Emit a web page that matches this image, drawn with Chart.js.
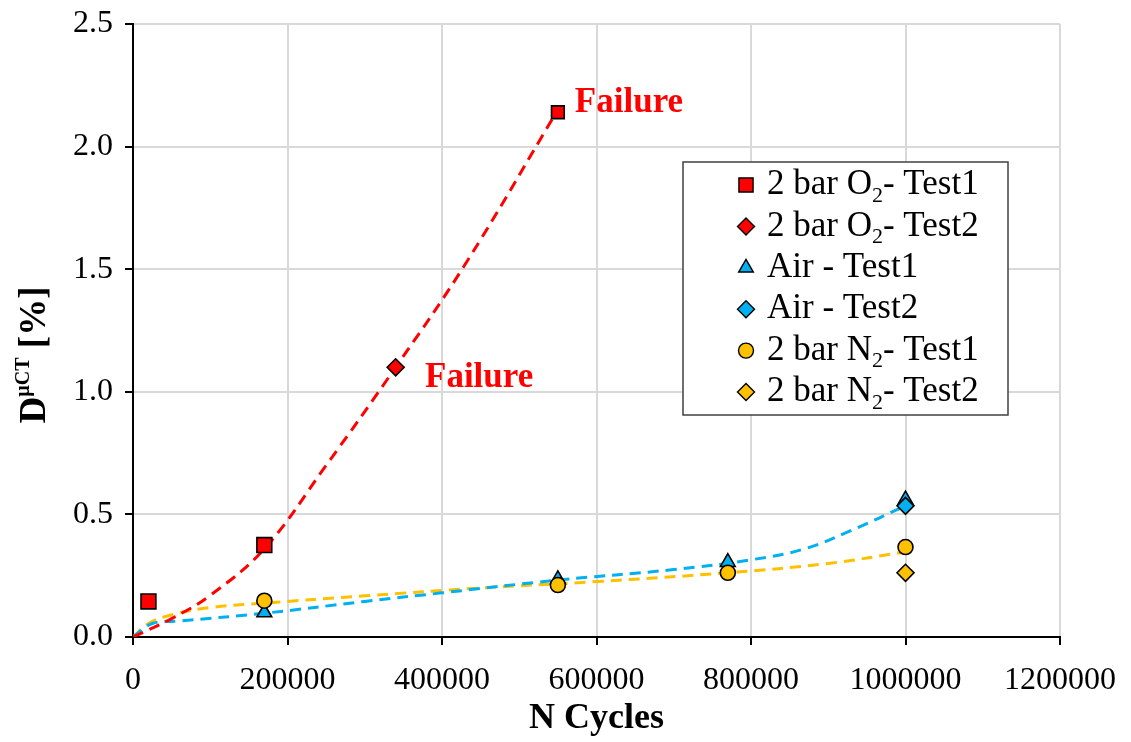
<!DOCTYPE html>
<html>
<head>
<meta charset="utf-8">
<script src="https://cdn.jsdelivr.net/npm/chart.js@4"></script>
<style>
  html, body { margin: 0; padding: 0; background: #fff; }
</style>
</head>
<body>
<canvas id="chart" width="1131" height="742"></canvas>
<script>
// measured points
const o2Test1X = [20000, 170000, 550000];
const o2Test1Y = [0.145, 0.375, 2.14];
const o2Test2X = [340000];
const o2Test2Y = [1.10];
const airTest1X = [170000, 550000, 770000, 1000000];
const airTest1Y = [0.10, 0.235, 0.305, 0.56];
const airTest2X = [1000000];
const airTest2Y = [0.535];
const n2Test1X = [170000, 550000, 770000, 1000000];
const n2Test1Y = [0.148, 0.212, 0.262, 0.367];
const n2Test2X = [1000000];
const n2Test2Y = [0.262];

// trend lines
const redTrendX = [0, 50000, 100000, 170000, 250000, 340000, 430000, 550000];
const redTrendY = [0, 0.075, 0.17, 0.36, 0.70, 1.10, 1.52, 2.15];
const blueTrendX = [0, 25000, 60000, 170000, 300000, 400000, 550000, 700000, 800000, 870000, 930000, 1000000];
const blueTrendY = [0, 0.055, 0.065, 0.097, 0.145, 0.18, 0.232, 0.275, 0.315, 0.36, 0.435, 0.535];
const yellowTrendX = [0, 20000, 50000, 100000, 170000, 300000, 450000, 600000, 770000, 900000, 1000000];
const yellowTrendY = [0, 0.055, 0.09, 0.12, 0.138, 0.168, 0.2, 0.226, 0.262, 0.30, 0.347];

// legend text: main part, subscript, tail
const legendMain = ['2 bar O', '2 bar O', 'Air - Test1', 'Air - Test2', '2 bar N', '2 bar N'];
const legendSub = ['2', '2', '', '', '2', '2'];
const legendTail = ['- Test1', '- Test2', '', '', '- Test1', '- Test2'];

// "Failure" notes
const failureX = [572000, 378000];
const failureY = [2.18, 1.055];
const failureText = ['Failure', 'Failure'];

const RED = '#FF0000', BLUE = '#00B0F0', YELLOW = '#FFC000';
const SERIF = '"Liberation Serif", "Times New Roman", serif';

function pts(xs, ys) {
    return xs.map((x, i) => ({ x: x, y: ys[i] }));
}

function markerSet(label, xs, ys, color, style, radius, order) {
    return {
        label: label,
        data: pts(xs, ys),
        showLine: false,
        pointStyle: style,
        pointRadius: radius,
        pointHoverRadius: radius,
        backgroundColor: color,
        pointBackgroundColor: color,
        pointBorderColor: '#000',
        pointBorderWidth: 1.6,
        order: order
    };
}

function trendSet(xs, ys, color) {
    return {
        label: 'trend',
        data: pts(xs, ys),
        showLine: true,
        borderColor: color,
        borderWidth: 3,
        borderDash: [11, 7],
        pointRadius: 0,
        tension: 0.4,
        fill: false,
        order: 20
    };
}

const markerSets = [
    markerSet('O2-1', o2Test1X, o2Test1Y, RED, 'rect', [10.5, 10.5, 9], 6),
    markerSet('O2-2', o2Test2X, o2Test2Y, RED, 'rectRot', 8.5, 5),
    markerSet('Air-1', airTest1X, airTest1Y, BLUE, 'triangle', 8.5, 4),
    markerSet('Air-2', airTest2X, airTest2Y, BLUE, 'rectRot', 8.5, 3),
    markerSet('N2-1', n2Test1X, n2Test1Y, YELLOW, 'circle', 7.5, 2),
    markerSet('N2-2', n2Test2X, n2Test2Y, YELLOW, 'rectRot', 8.5, 1)
];

function drawMarker(ctx, style, x, y, r) {
    ctx.beginPath();
    if (style === 'rect') {
        const s = r * Math.SQRT1_2;
        ctx.rect(x - s, y - s, 2 * s, 2 * s);
    } else if (style === 'rectRot') {
        ctx.moveTo(x, y - r);
        ctx.lineTo(x + r, y);
        ctx.lineTo(x, y + r);
        ctx.lineTo(x - r, y);
        ctx.closePath();
    } else if (style === 'triangle') {
        ctx.moveTo(x, y - r);
        ctx.lineTo(x + r * 0.866, y + r * 0.5);
        ctx.lineTo(x - r * 0.866, y + r * 0.5);
        ctx.closePath();
    } else {
        ctx.arc(x, y, r, 0, Math.PI * 2);
    }
    ctx.fill();
    ctx.stroke();
}

const boxLegend = {
    id: 'boxLegend',
    afterDatasetsDraw(chart) {
        const ctx = chart.ctx;
        const left = 683, top = 162, w = 325, h = 253;
        ctx.save();
        ctx.fillStyle = '#fff';
        ctx.fillRect(left, top, w, h);
        ctx.strokeStyle = '#404040';
        ctx.lineWidth = 1.5;
        ctx.strokeRect(left, top, w, h);
        const sizes = [10, 8.5, 8.5, 8.5, 7.5, 8.5];
        markerSets.forEach((ds, i) => {
            const y = 185 + i * 41.4;
            ctx.fillStyle = ds.backgroundColor;
            ctx.strokeStyle = '#000';
            ctx.lineWidth = 1.4;
            drawMarker(ctx, ds.pointStyle, 746, y, sizes[i]);
            ctx.fillStyle = '#000';
            ctx.textBaseline = 'middle';
            ctx.textAlign = 'left';
            ctx.font = '35px ' + SERIF;
            let x = 767;
            ctx.fillText(legendMain[i], x, y);
            x += ctx.measureText(legendMain[i]).width;
            if (legendSub[i]) {
                ctx.font = '22px ' + SERIF;
                ctx.fillText(legendSub[i], x, y + 11);
                x += ctx.measureText(legendSub[i]).width;
                ctx.font = '35px ' + SERIF;
                ctx.fillText(legendTail[i], x, y);
            }
        });
        ctx.restore();
    }
};

const notes = {
    id: 'notes',
    afterDatasetsDraw(chart) {
        const ctx = chart.ctx;
        const xs = chart.scales.x, ys = chart.scales.y;
        ctx.save();
        ctx.fillStyle = RED;
        ctx.font = 'bold 35px ' + SERIF;
        ctx.textAlign = 'left';
        ctx.textBaseline = 'middle';
        failureText.forEach((t, i) => {
            ctx.fillText(t, xs.getPixelForValue(failureX[i]), ys.getPixelForValue(failureY[i]));
        });
        ctx.restore();
    }
};

const yTitle = {
    id: 'yTitle',
    afterDraw(chart) {
        const ctx = chart.ctx;
        ctx.save();
        ctx.translate(45, 355);
        ctx.rotate(-Math.PI / 2);
        ctx.fillStyle = '#000';
        ctx.textBaseline = 'alphabetic';
        ctx.textAlign = 'left';
        const big = 'bold 37px ' + SERIF, small = 'bold 20px ' + SERIF;
        ctx.font = big;
        const wD = ctx.measureText('D').width;
        const wT = ctx.measureText(' [%]').width;
        ctx.font = small;
        const wS = ctx.measureText('\u00b5CT').width;
        let x = -(wD + wS + wT) / 2;
        ctx.font = big;
        ctx.fillText('D', x, 0);
        x += wD;
        ctx.font = small;
        ctx.fillText('\u00b5CT', x, -16);
        x += wS;
        ctx.font = big;
        ctx.fillText(' [%]', x, 0);
        ctx.restore();
    }
};

new Chart(document.getElementById('chart'), {
    type: 'scatter',
    data: {
        datasets: markerSets.concat([
            trendSet(redTrendX, redTrendY, RED),
            trendSet(blueTrendX, blueTrendY, BLUE),
            trendSet(yellowTrendX, yellowTrendY, YELLOW)
        ])
    },
    options: {
        responsive: false,
        animation: false,
        devicePixelRatio: 1,
        layout: { padding: { left: 0, right: 71, top: 24, bottom: 0 } },
        plugins: {
            legend: { display: false },
            tooltip: { enabled: false }
        },
        scales: {
            x: {
                type: 'linear',
                min: 0,
                max: 1200000,
                afterFit: function(scale) {
                    scale.height = 105;
                    scale.paddingLeft = 0;
                    scale.paddingRight = 0;
                },
                ticks: {
                    stepSize: 200000,
                    color: '#000',
                    font: { family: SERIF, size: 32 },
                    padding: 16,
                    maxRotation: 0,
                    callback: function(value) { return String(value); }
                },
                grid: { color: '#D9D9D9', lineWidth: 2, tickLength: 8, tickColor: '#000', tickWidth: 2 },
                border: { color: '#000', width: 2 },
                title: {
                    display: true,
                    text: 'N Cycles',
                    color: '#000',
                    font: { family: SERIF, size: 36, weight: 'bold' },
                    padding: { top: 0, bottom: 2 }
                }
            },
            y: {
                min: 0,
                max: 2.5,
                afterFit: function(scale) {
                    scale.width = 133;
                    scale.paddingTop = 0;
                    scale.paddingBottom = 0;
                },
                ticks: {
                    stepSize: 0.5,
                    color: '#000',
                    font: { family: SERIF, size: 32 },
                    padding: 12,
                    callback: function(value) { return value.toFixed(1); }
                },
                grid: { color: '#D9D9D9', lineWidth: 2, tickLength: 8, tickColor: '#000', tickWidth: 2 },
                border: { color: '#000', width: 2 }
            }
        }
    },
    plugins: [boxLegend, notes, yTitle]
});
</script>
</body>
</html>
